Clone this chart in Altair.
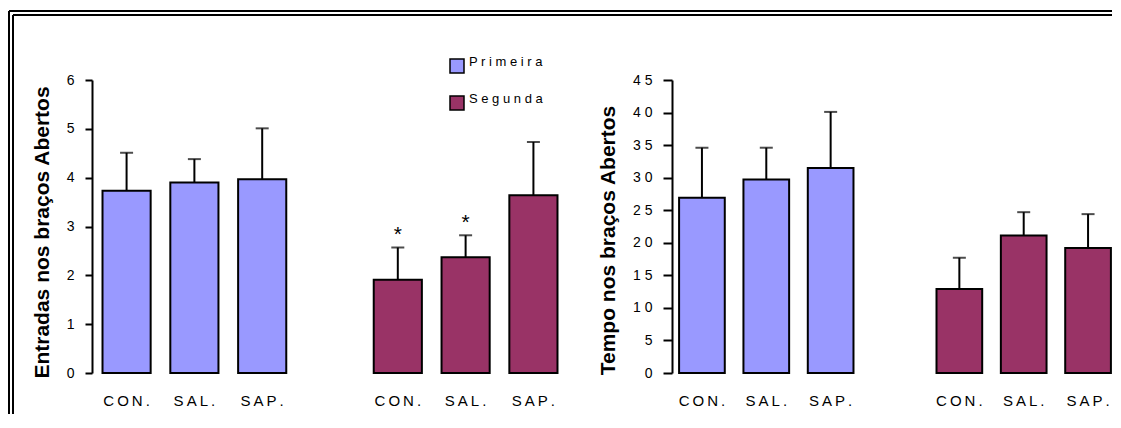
import altair as alt
import pandas as pd

# ---------------- data ----------------
categorias = ["CON.", "SAL.", "SAP."]
sessoes = ["Primeira", "Segunda"]
cores = ["#9999FF", "#993366"]

entradas_primeira = [3.73, 3.90, 3.97]
entradas_primeira_ep = [0.78, 0.48, 1.04]
entradas_segunda = [1.91, 2.37, 3.64]
entradas_segunda_ep = [0.66, 0.45, 1.09]
entradas_sig = ["*", "*", ""]

tempo_primeira = [26.9, 29.7, 31.5]
tempo_primeira_ep = [7.7, 4.9, 8.6]
tempo_segunda = [12.9, 21.1, 19.2]
tempo_segunda_ep = [4.8, 3.6, 5.2]
tempo_sig = ["", "", ""]

entradas_ticks = [0, 1, 2, 3, 4, 5, 6]
tempo_ticks = [0, 5, 10, 15, 20, 25, 30, 35, 40, 45]

slots = ["1" + c for c in categorias] + ["gap"] + ["2" + c for c in categorias]


def tabela(p, pe, s, se, sig_p, sig_s):
    rows = []
    for i, c in enumerate(categorias):
        rows.append({"slot": "1" + c, "sessao": sessoes[0], "media": p[i],
                     "sup": p[i] + pe[i], "sig": sig_p[i]})
    for i, c in enumerate(categorias):
        rows.append({"slot": "2" + c, "sessao": sessoes[1], "media": s[i],
                     "sup": s[i] + se[i], "sig": sig_s[i]})
    return pd.DataFrame(rows)


df_ent = tabela(entradas_primeira, entradas_primeira_ep, entradas_segunda,
                entradas_segunda_ep, ["", "", ""], entradas_sig)
df_tem = tabela(tempo_primeira, tempo_primeira_ep, tempo_segunda,
                tempo_segunda_ep, tempo_sig, tempo_sig)

SPACED = "replace({v}, regexp('(.)(?=.)', 'g'), '$1{s}')"
FONT = "Liberation Sans"
THIN = "\u2009"

legenda = alt.Legend(
    orient="none", legendX=357, legendY=-22, title=None,
    symbolType="square", symbolSize=196, symbolStrokeColor="black",
    symbolStrokeWidth=1.5, labelFontSize=13, labelFont=FONT,
    labelColor="black", labelOffset=4, rowPadding=17,
    labelBaseline="alphabetic",
    labelExpr=SPACED.format(v="datum.label", s=" "),
)


def painel(df, ydom, yticks, titulo, width, pi, po, align, tick_size,
           title_y, estrelas=False, borda=False):
    base = alt.Chart(df)
    xscale = alt.Scale(domain=slots, paddingInner=pi, paddingOuter=po,
                       align=align)
    xaxis = alt.Axis(title=None, ticks=False, domain=False,
                     labelAngle=0, labelPadding=20, labelFontSize=15,
                     labelFont=FONT, labelColor="black",
                     labelExpr="datum.value == 'gap' ? '' : " +
                     SPACED.format(v="slice(datum.value, 1)", s=THIN))
    yscale = alt.Scale(domain=ydom, nice=False)
    yaxis = alt.Axis(values=yticks, title=titulo, grid=False,
                     domainColor="black", domainWidth=2,
                     tickColor="black", tickWidth=2,
                     tickSize=tick_size, labelPadding=11,
                     labelFontSize=14, labelFont=FONT,
                     labelColor="black",
                     labelExpr=SPACED.format(v="datum.label", s=" "),
                     titleFontSize=21, titleFont=FONT,
                     titleFontWeight="bold", titleColor="black",
                     titlePadding=14, titleY=title_y)

    def X():
        return alt.X("slot:N", sort=slots, scale=xscale, axis=xaxis)

    def Y(field):
        return alt.Y(field + ":Q", scale=yscale, axis=yaxis)

    bars = base.mark_bar(stroke="black", strokeWidth=2).encode(
        x=X(), y=Y("media"),
        color=alt.Color("sessao:N",
                        scale=alt.Scale(domain=sessoes, range=cores),
                        legend=legenda))
    rules = base.mark_rule(color="black", strokeWidth=2).encode(
        x=X(), y=Y("media"), y2="sup:Q")
    caps = base.mark_tick(color="black", thickness=2, size=13,
                          orient="horizontal").encode(x=X(), y=Y("sup"))
    layers = [bars, rules, caps]
    if estrelas:
        layers.append(base.mark_text(fontSize=21, font=FONT,
                                     baseline="alphabetic", dy=-6,
                                     color="black").encode(
            x=X(), y=Y("sup"), text="sig:N"))
    if borda:
        one = alt.Chart(pd.DataFrame({"d": [0]}))
        for off in (0, 4):
            layers.append(one.mark_rule(color="black", strokeWidth=2).encode(
                x=alt.value(-83 + off), x2=alt.value(1020),
                y=alt.value(-69 + off)))
            layers.append(one.mark_rule(color="black", strokeWidth=2).encode(
                x=alt.value(-83 + off), y=alt.value(-69 + off),
                y2=alt.value(334)))
    return alt.layer(*layers).properties(width=width, height=293)


esq = painel(df_ent, [0, 6], entradas_ticks, "Entradas nos braços Abertos",
             476, 0.29, 0.155, 0.5, 7, 152, estrelas=True, borda=True)
dir_ = painel(df_tem, [0, 45], tempo_ticks, "Tempo nos braços Abertos",
              440, 0.29, 0.0636, 0.866, 9, 160)

chart = alt.hconcat(esq, dir_, spacing=104, bounds="flush",
                    padding={"left": 0, "top": 2, "right": 0, "bottom": 0}
                    ).configure(
    font=FONT, background="white", view=alt.ViewConfig(stroke=None))

chart.save("out.html", embed_options={"renderer": "svg", "actions": False})
